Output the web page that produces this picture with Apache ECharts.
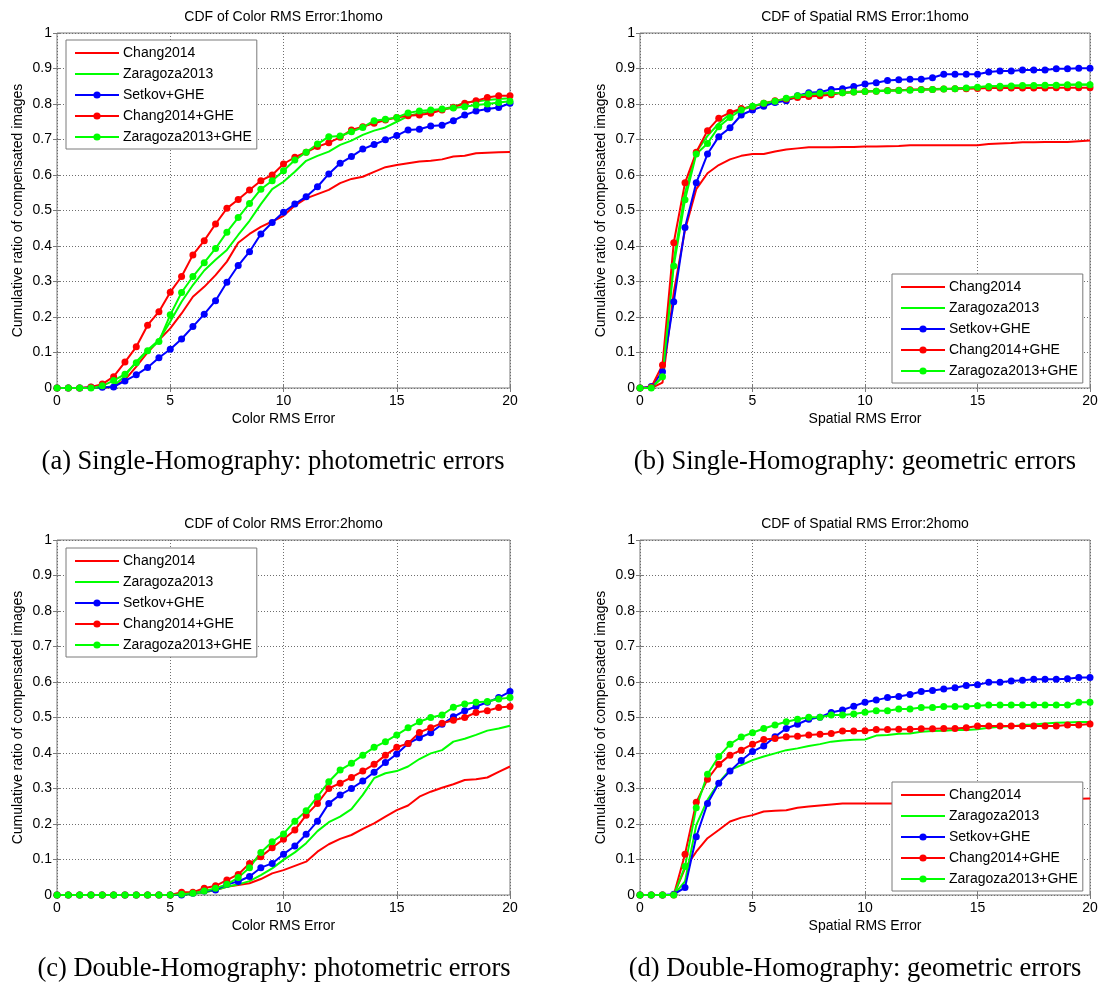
<!DOCTYPE html>
<html>
<head>
<meta charset="utf-8">
<script src="https://cdn.jsdelivr.net/npm/echarts@6/dist/echarts.min.js"></script>
<style>
  html, body { margin: 0; padding: 0; background: #fff; }
  #chart { width: 1101px; height: 983px; }
</style>
</head>
<body>
<div id="chart"></div>
<script>
// Error thresholds (x axis) shared by all four CDF plots
const X = [0, 0.5, 1, 1.5, 2, 2.5, 3, 3.5, 4, 4.5, 5, 5.5, 6, 6.5, 7, 7.5, 8, 8.5, 9, 9.5,
           10, 10.5, 11, 11.5, 12, 12.5, 13, 13.5, 14, 14.5, 15, 15.5, 16, 16.5, 17, 17.5,
           18, 18.5, 19, 19.5, 20];

const SERIES_NAMES = ['Chang2014', 'Zaragoza2013', 'Setkov+GHE', 'Chang2014+GHE', 'Zaragoza2013+GHE'];

// (a) single homography, colour RMS error
const a_chang = [0,0,0,0,0,0.004,0.023,0.060,0.100,0.135,0.168,0.210,0.257,0.285,0.318,0.356,0.409,0.434,0.454,0.469,0.485,0.514,0.534,0.546,0.558,0.577,0.589,0.595,0.609,0.622,0.628,0.633,0.638,0.640,0.644,0.652,0.654,0.661,0.663,0.664,0.665];
const a_zara = [0,0,0,0,0,0.006,0.034,0.074,0.107,0.135,0.187,0.243,0.290,0.331,0.361,0.389,0.431,0.471,0.518,0.560,0.581,0.609,0.640,0.654,0.666,0.685,0.697,0.713,0.725,0.734,0.750,0.766,0.774,0.778,0.785,0.792,0.804,0.807,0.811,0.814,0.816];
const a_setkovGHE = [0,0,0,0.002,0.002,0.003,0.020,0.037,0.058,0.085,0.109,0.138,0.173,0.208,0.246,0.298,0.345,0.384,0.434,0.466,0.495,0.518,0.539,0.567,0.603,0.633,0.652,0.673,0.686,0.699,0.711,0.727,0.729,0.738,0.740,0.753,0.769,0.780,0.786,0.790,0.802];
const a_changGHE = [0,0,0,0.003,0.011,0.032,0.073,0.116,0.177,0.215,0.270,0.314,0.375,0.415,0.462,0.506,0.531,0.558,0.584,0.600,0.631,0.650,0.664,0.680,0.691,0.706,0.727,0.736,0.746,0.755,0.762,0.767,0.769,0.774,0.783,0.791,0.802,0.809,0.818,0.823,0.823];
const a_zaraGHE = [0,0,0,0,0.006,0.021,0.039,0.071,0.105,0.131,0.206,0.269,0.314,0.353,0.393,0.439,0.480,0.520,0.560,0.584,0.612,0.642,0.664,0.687,0.708,0.710,0.722,0.734,0.753,0.757,0.762,0.775,0.780,0.783,0.786,0.789,0.792,0.797,0.800,0.804,0.808];

// (b) single homography, spatial RMS error
const b_chang = [0,0,0.015,0.270,0.445,0.560,0.605,0.628,0.644,0.654,0.659,0.659,0.666,0.672,0.675,0.678,0.678,0.678,0.679,0.679,0.680,0.680,0.681,0.682,0.684,0.684,0.684,0.684,0.684,0.684,0.684,0.687,0.689,0.690,0.692,0.692,0.693,0.693,0.693,0.695,0.697];
const b_zara = [0,0,0.030,0.360,0.550,0.665,0.710,0.745,0.772,0.785,0.795,0.800,0.806,0.812,0.818,0.824,0.827,0.829,0.831,0.833,0.835,0.837,0.838,0.839,0.840,0.841,0.842,0.843,0.844,0.846,0.848,0.850,0.851,0.852,0.852,0.853,0.853,0.854,0.854,0.855,0.855];
const b_setkovGHE = [0,0.004,0.046,0.243,0.452,0.578,0.659,0.708,0.733,0.769,0.783,0.794,0.804,0.809,0.823,0.832,0.834,0.841,0.843,0.849,0.856,0.860,0.866,0.868,0.870,0.870,0.874,0.884,0.884,0.884,0.884,0.890,0.893,0.893,0.896,0.896,0.896,0.899,0.899,0.901,0.901];
const b_changGHE = [0,0.002,0.065,0.409,0.578,0.664,0.725,0.760,0.776,0.787,0.792,0.802,0.809,0.814,0.818,0.821,0.823,0.826,0.832,0.834,0.835,0.836,0.838,0.839,0.840,0.841,0.841,0.842,0.843,0.843,0.844,0.845,0.845,0.845,0.845,0.845,0.845,0.846,0.846,0.846,0.846];
const b_zaraGHE = [0,0,0.032,0.344,0.530,0.659,0.689,0.736,0.762,0.783,0.794,0.802,0.808,0.816,0.823,0.828,0.830,0.831,0.832,0.834,0.835,0.836,0.837,0.838,0.839,0.840,0.841,0.842,0.843,0.845,0.847,0.849,0.850,0.851,0.852,0.852,0.853,0.853,0.854,0.854,0.854];

// (c) double homography, colour RMS error
const c_chang = [0,0,0,0,0,0,0,0,0,0,0,0,0.005,0.008,0.014,0.023,0.028,0.033,0.045,0.061,0.070,0.082,0.094,0.122,0.143,0.158,0.169,0.186,0.202,0.221,0.239,0.252,0.277,0.291,0.302,0.312,0.324,0.326,0.331,0.347,0.362];
const c_zara = [0,0,0,0,0,0,0,0,0,0,0,0,0.003,0.008,0.014,0.023,0.030,0.039,0.056,0.075,0.099,0.120,0.146,0.180,0.205,0.221,0.242,0.282,0.329,0.343,0.349,0.362,0.383,0.399,0.408,0.432,0.440,0.451,0.463,0.469,0.477];
const c_setkovGHE = [0,0,0,0,0,0,0,0,0,0,0,0,0.005,0.011,0.014,0.030,0.038,0.052,0.077,0.089,0.115,0.138,0.171,0.208,0.258,0.282,0.300,0.321,0.346,0.373,0.397,0.427,0.443,0.457,0.481,0.502,0.519,0.531,0.543,0.556,0.573];
const c_changGHE = [0,0,0,0,0,0,0,0,0,0,0,0.008,0.008,0.019,0.026,0.042,0.058,0.089,0.108,0.133,0.157,0.183,0.225,0.258,0.300,0.315,0.331,0.349,0.368,0.394,0.416,0.427,0.458,0.471,0.484,0.492,0.500,0.514,0.519,0.528,0.531];
const c_zaraGHE = [0,0,0,0,0,0,0,0,0,0,0,0.002,0.005,0.011,0.019,0.030,0.049,0.077,0.120,0.150,0.172,0.208,0.237,0.277,0.319,0.352,0.371,0.394,0.416,0.432,0.451,0.471,0.488,0.500,0.507,0.529,0.538,0.543,0.545,0.552,0.556];

// (d) double homography, spatial RMS error
const d_chang = [0,0,0,0,0.075,0.122,0.160,0.183,0.207,0.218,0.225,0.235,0.237,0.239,0.246,0.249,0.252,0.255,0.258,0.258,0.258,0.258,0.258,0.258,0.258,0.259,0.259,0.260,0.260,0.261,0.262,0.263,0.264,0.265,0.266,0.267,0.268,0.269,0.270,0.271,0.272];
const d_zara = [0,0,0,0,0.038,0.197,0.268,0.317,0.352,0.366,0.380,0.390,0.399,0.408,0.413,0.420,0.425,0.432,0.435,0.437,0.438,0.449,0.451,0.454,0.455,0.460,0.462,0.463,0.465,0.465,0.467,0.471,0.474,0.475,0.479,0.480,0.483,0.485,0.486,0.487,0.487];
const d_setkovGHE = [0,0,0,0.002,0.021,0.164,0.258,0.315,0.349,0.379,0.404,0.420,0.446,0.469,0.481,0.495,0.501,0.514,0.521,0.532,0.543,0.549,0.556,0.559,0.565,0.573,0.576,0.580,0.584,0.590,0.592,0.599,0.599,0.603,0.605,0.608,0.608,0.608,0.609,0.613,0.613];
const d_changGHE = [0,0,0,0,0.115,0.261,0.326,0.368,0.394,0.408,0.425,0.438,0.441,0.446,0.447,0.451,0.453,0.455,0.462,0.462,0.463,0.466,0.466,0.467,0.467,0.468,0.468,0.469,0.469,0.471,0.476,0.476,0.476,0.476,0.476,0.476,0.476,0.476,0.479,0.479,0.482];
const d_zaraGHE = [0,0,0,0,0.080,0.246,0.340,0.390,0.425,0.445,0.457,0.469,0.479,0.488,0.495,0.501,0.501,0.507,0.507,0.510,0.515,0.519,0.519,0.524,0.524,0.528,0.528,0.531,0.531,0.531,0.533,0.535,0.535,0.535,0.535,0.535,0.535,0.535,0.535,0.543,0.543];

const panels = [
  { title: 'CDF of Color RMS Error:1homo', xName: 'Color RMS Error',
    caption: '(a) Single-Homography: photometric errors',
    data: [a_chang, a_zara, a_setkovGHE, a_changGHE, a_zaraGHE] },
  { title: 'CDF of Spatial RMS Error:1homo', xName: 'Spatial RMS Error',
    caption: '(b) Single-Homography: geometric errors',
    data: [b_chang, b_zara, b_setkovGHE, b_changGHE, b_zaraGHE] },
  { title: 'CDF of Color RMS Error:2homo', xName: 'Color RMS Error',
    caption: '(c) Double-Homography: photometric errors',
    data: [c_chang, c_zara, c_setkovGHE, c_changGHE, c_zaraGHE] },
  { title: 'CDF of Spatial RMS Error:2homo', xName: 'Spatial RMS Error',
    caption: '(d) Double-Homography: geometric errors',
    data: [d_chang, d_zara, d_setkovGHE, d_changGHE, d_zaraGHE] }
];

// Layout of the 2x2 figure
const SANS = '"Liberation Sans", Arial, sans-serif';
const SERIF = '"Liberation Serif", "Times New Roman", serif';
const FRAME = '#7a7a7a';
const boxes = [
  { left: 57,  top: 33,  width: 453, height: 355, captionX: 273 },
  { left: 640, top: 33,  width: 450, height: 355, captionX: 855 },
  { left: 57,  top: 540, width: 453, height: 355, captionX: 274 },
  { left: 640, top: 540, width: 450, height: 355, captionX: 855 }
];
const legendPos = [
  { left: 66,  top: 40 },
  { left: 892, top: 274 },
  { left: 66,  top: 548 },
  { left: 892, top: 782 }
];
const COLORS = ['#ff0000', '#00ff00', '#0000ff', '#ff0000', '#00ff00'];
const MARKED = [false, false, true, true, true];

const grids = [], xAxes = [], yAxes = [], series = [], legends = [], graphics = [];

const tickStyle = { show: true, inside: true, length: 4, lineStyle: { color: FRAME } };
const gridLine = { show: true, lineStyle: { color: '#6e6e6e', type: [1, 2], width: 1 } };

panels.forEach((p, k) => {
  const b = boxes[k];
  grids.push({
    left: b.left, top: b.top, width: b.width, height: b.height,
    show: true, borderColor: FRAME, borderWidth: 1, backgroundColor: '#fff'
  });
  xAxes.push({
    type: 'value', gridIndex: k, min: 0, max: 20, interval: 5, position: 'bottom',
    name: p.xName, nameLocation: 'middle', nameGap: 24,
    nameTextStyle: { fontFamily: SANS, fontSize: 14, color: '#000' },
    axisLine: { show: false },
    axisTick: tickStyle,
    axisLabel: { fontFamily: SANS, fontSize: 14, color: '#000', margin: 6 },
    splitLine: gridLine
  });
  // mirrored axis on top: inward ticks only
  xAxes.push({
    type: 'value', gridIndex: k, min: 0, max: 20, interval: 5, position: 'top',
    axisLine: { show: false }, axisTick: tickStyle,
    axisLabel: { show: false }, splitLine: { show: false }
  });
  yAxes.push({
    type: 'value', gridIndex: k, min: 0, max: 1, interval: 0.1, position: 'left',
    name: 'Cumulative ratio of compensated images', nameLocation: 'middle', nameGap: 32,
    nameRotate: 90,
    nameTextStyle: { fontFamily: SANS, fontSize: 14, color: '#000' },
    axisLine: { show: false },
    axisTick: tickStyle,
    axisLabel: { fontFamily: SANS, fontSize: 14, color: '#000', margin: 5 },
    splitLine: gridLine
  });
  // mirrored axis on the right: inward ticks only
  yAxes.push({
    type: 'value', gridIndex: k, min: 0, max: 1, interval: 0.1, position: 'right',
    axisLine: { show: false }, axisTick: tickStyle,
    axisLabel: { show: false }, splitLine: { show: false }
  });
  p.data.forEach((vals, s) => {
    series.push({
      type: 'line', name: SERIES_NAMES[s], xAxisIndex: 2 * k, yAxisIndex: 2 * k,
      data: vals.map((v, i) => [X[i], v]),
      symbol: MARKED[s] ? 'circle' : 'none', symbolSize: 7, showSymbol: MARKED[s],
      lineStyle: { color: COLORS[s], width: 2 },
      itemStyle: { color: COLORS[s] },
      emphasis: { disabled: true }, silent: true
    });
  });
  legends.push({
    data: SERIES_NAMES.map((n, s) => MARKED[s] ? { name: n } : { name: n, itemStyle: { opacity: 0 } }),
    orient: 'vertical',
    left: legendPos[k].left, top: legendPos[k].top,
    backgroundColor: '#fff', borderColor: FRAME, borderWidth: 1, borderRadius: 0,
    padding: [6, 5, 5, 8], itemWidth: 44, itemHeight: 9, itemGap: 7,
    selectedMode: false,
    textStyle: { fontFamily: SANS, fontSize: 14, color: '#000', padding: [0, 0, 0, -1] }
  });
  graphics.push({
    type: 'text', x: b.left + b.width / 2, y: b.top - 16,
    style: { text: p.title, fontFamily: SANS, fontSize: 14, fill: '#000',
             textAlign: 'center', textVerticalAlign: 'middle' }
  });
  graphics.push({
    type: 'text', x: b.captionX, y: b.top + b.height + 74,
    style: { text: p.caption, fontFamily: SERIF, fontSize: 26.5, fill: '#000',
             textAlign: 'center', textVerticalAlign: 'middle' }
  });
});

const chart = echarts.init(document.getElementById('chart'), null, { renderer: 'canvas' });
chart.setOption({
  animation: false,
  backgroundColor: '#fff',
  grid: grids, xAxis: xAxes, yAxis: yAxes,
  legend: legends, series: series, graphic: graphics
});
</script>
</body>
</html>
